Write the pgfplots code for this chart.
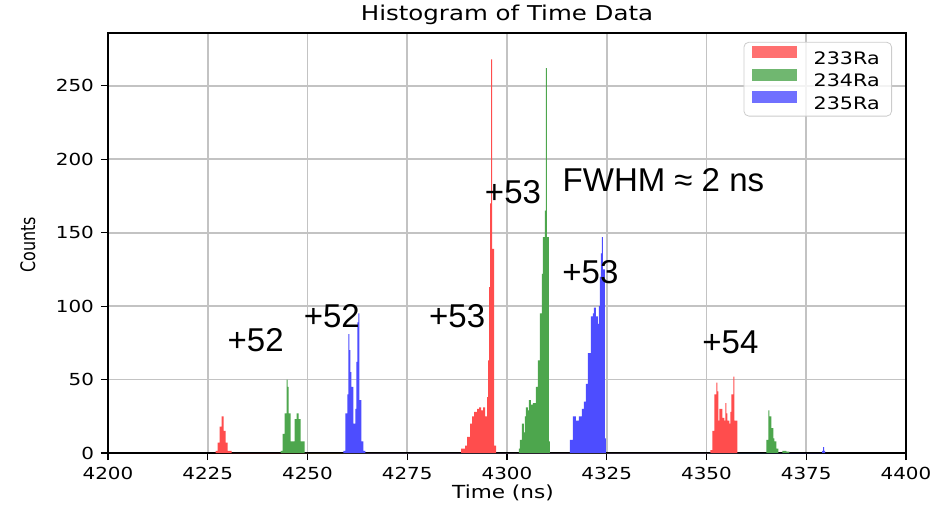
\documentclass[border=0pt]{standalone}
\usepackage{pgfplots}
\pgfplotsset{compat=1.18}
\usepackage{fontspec}
\setmainfont{DejaVu Sans}
\newfontfamily\mpl[FakeStretch=1.2]{DejaVu Sans}
\newfontfamily\mplc[FakeStretch=0.8]{DejaVu Sans}
\newfontfamily\lib{Liberation Sans}
\definecolor{cR}{RGB}{255,77,77}
\definecolor{cG}{RGB}{77,166,77}
\definecolor{cB}{RGB}{77,77,255}
\definecolor{gridc}{RGB}{195,195,195}
\definecolor{legc}{RGB}{204,204,204}
\begin{document}
\begin{tikzpicture}
\useasboundingbox (-54pt,-26pt) rectangle (412pt,226.5pt);
\begin{axis}[
  at={(0,0)}, anchor=south west,
  scale only axis, width=399pt, height=210pt,
  xmin=4200, xmax=4400, ymin=0, ymax=286,
  xtick={4200,4225,...,4400}, ytick={0,50,...,250},
  grid=major, grid style={gridc, line width=0.9pt},
  axis line style={black, line width=0.6pt},
  tick align=outside, tick pos=left, major tick length=3.5pt,
  tick style={black, line width=0.6pt},
  /pgf/number format/assume math mode=true,
  /pgf/number format/1000 sep={},
  ticklabel style={font=\mpl\fontsize{8.3}{10}\selectfont},
  title={Histogram of Time Data},
  title style={at={(axis description cs:0.5,1.0145)}, anchor=center, font=\mpl\fontsize{10.2}{12}\selectfont},
  xlabel={Time (ns)},
  x label style={at={(axis description cs:0.495,-0.095)}, anchor=center, font=\mpl\fontsize{9}{11}\selectfont},
  ylabel={Counts},
  y label style={at={(axis description cs:-0.1003,0.496)}, anchor=center, font=\mplc\fontsize{10}{12}\selectfont},
  legend style={at={(0.9825,0.979)}, anchor=north east, draw=legc, rounded corners=2.5pt,
    fill=white, fill opacity=0.8, text opacity=1, font=\mpl\fontsize{8.6}{10}\selectfont,
    inner xsep=4pt, inner ysep=2pt, row sep=0.8pt,
    nodes={inner ysep=1.5pt, text height=6.3pt, text depth=0pt},
    /tikz/every odd column/.append style={column sep=6.4pt}},
  legend cell align=left,
  legend image code/.code={\fill[#1, sharp corners] (0pt,-0.2pt) rectangle (22.5pt,5.8pt);},
]
\addplot[ybar interval, fill=cR, draw=none] coordinates {
(4227.0,1.5) (4227.5,7) (4228.0,18) (4228.5,25) (4229.0,15) (4229.5,7) (4230.0,1.5) (4231.0,0)
(4288.5,3) (4289.5,5) (4290.0,11) (4290.75,20) (4291.25,25) (4291.75,28) (4292.5,30) (4293.0,31) (4293.5,29) (4294.0,31) (4294.5,25) (4295.0,38) (4295.25,63) (4295.5,113) (4295.75,170) (4296.0,268) (4296.25,139) (4296.75,5) (4297.25,0)
(4351.0,2) (4351.5,15) (4352.0,40) (4352.5,48) (4352.75,42) (4353.0,22) (4353.25,30) (4353.75,30) (4354.0,24) (4354.5,22) (4354.75,34) (4355.0,27) (4355.25,22) (4355.75,20) (4356.0,28) (4356.25,40) (4356.75,52) (4357.0,22) (4357.75,0)
};
\addlegendentry{233Ra}
\addplot[ybar interval, fill=cG, draw=none] coordinates {
(4243.25,1.5) (4243.75,13) (4244.25,27) (4244.75,50) (4245.0,45) (4245.25,27) (4245.75,8) (4246.75,23) (4247.25,27) (4247.75,23) (4248.25,8) (4249.25,0)
(4303.0,3) (4303.25,9) (4303.75,20) (4304.25,14) (4304.5,25) (4304.75,31) (4305.25,29) (4305.5,36) (4306.0,33) (4306.5,34) (4307.25,45) (4307.75,63) (4308.25,95) (4308.75,122) (4309.0,147) (4309.5,165) (4309.75,262) (4310.0,147) (4310.5,8) (4310.75,0)
(4365.0,9) (4365.5,29) (4365.75,25) (4366.25,17) (4366.75,10) (4367.0,8) (4367.5,3) (4368.0,0) (4369.0,1.5) (4370.0,1) (4370.75,0)
};
\addlegendentry{234Ra}
\addplot[ybar interval, fill=cB, draw=none] coordinates {
(4259.0,1.5) (4259.5,27) (4260.0,40) (4260.25,81) (4260.5,70) (4260.75,55) (4261.0,45) (4261.5,20) (4262.0,30) (4262.25,62) (4262.5,89) (4262.75,95) (4263.0,36) (4263.5,8) (4264.0,1.5) (4264.5,0)
(4315.75,9) (4316.5,25) (4317.25,22) (4318.0,25) (4318.75,30) (4319.25,35) (4319.75,47) (4320.25,68) (4321.0,93) (4321.5,95) (4321.75,99) (4322.25,93) (4322.75,88) (4323.0,100) (4323.25,120) (4323.5,136) (4323.75,147) (4324.0,125) (4324.5,10) (4324.75,0)
(4379.0,1.5) (4379.25,4) (4379.5,1.5) (4379.75,0)
};
\addlegendentry{235Ra}
\begin{scope}[every node/.style={font=\lib\fontsize{16.5}{18}\selectfont, inner sep=0pt, anchor=center}]
\node at (axis cs:4237,77) {+52};
\node at (axis cs:4256.1,93.3) {+52};
\node at (axis cs:4287.5,93.3) {+53};
\node at (axis cs:4301.5,177.8) {+53};
\node at (axis cs:4339.2,186) {FWHM ≈ 2 ns};
\node at (axis cs:4320.9,123.3) {+53};
\node at (axis cs:4356,75.6) {+54};
\end{scope}
\end{axis}
\end{tikzpicture}
\end{document}
